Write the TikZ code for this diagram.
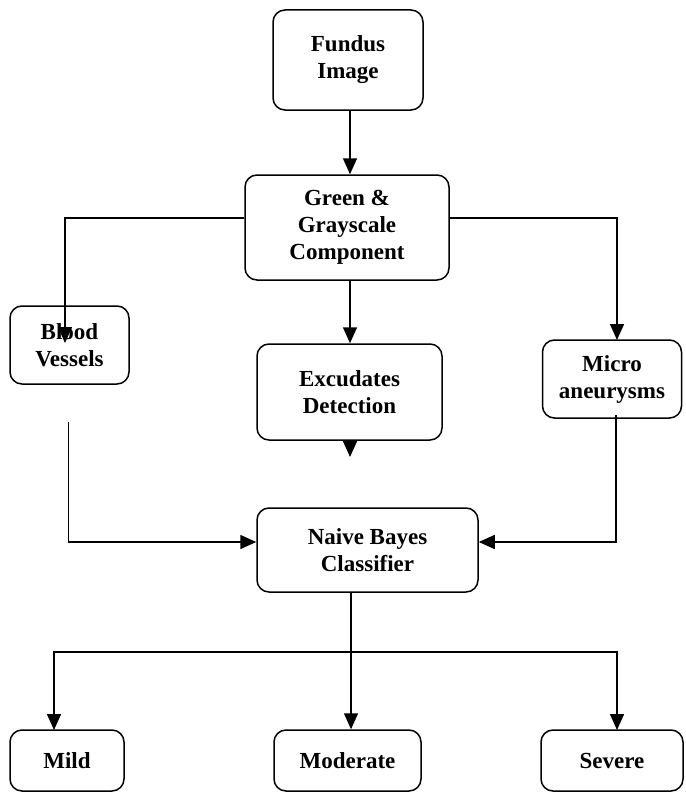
\documentclass[tikz,border=0pt]{standalone}
\usepackage{fontspec}
\setmainfont{Liberation Serif}
\usetikzlibrary{arrows.meta,calc}

\begin{document}
\begin{tikzpicture}[x=1pt,y=-1pt]
        \useasboundingbox (0,0) rectangle (685,792);

        \begin{scope}[every node/.style={draw,thick,line width=1.5pt,rounded corners=12pt,
                    align=center,inner sep=0pt,font=\bfseries\fontsize{23}{27}\selectfont}]
            \node[minimum width=150pt,minimum height=100pt] (fundus) at (348, 60) {Fundus\\Image};
            \node[minimum width=204pt,minimum height=105pt] (green) at (347, 227.5) {Green \&\\Grayscale\\Component};
            \node[minimum width=119pt,minimum height=78pt] (blood) at (69.5, 345) {Blood\\Vessels};
            \node[minimum width=185pt,minimum height=96pt] (excud) at (349.5, 392) {Excudates\\Detection};
            \node[minimum width=139pt,minimum height=78pt] (micro) at (612, 379) {Micro\\aneurysms};
            \node[minimum width=221pt,minimum height=84pt] (naive) at (367.5, 550) {Naive Bayes\\Classifier};
            \node[minimum width=114pt,minimum height=61pt] (mild) at (67, 760.5) {Mild};
            \node[minimum width=147pt,minimum height=61pt] (moderate) at (347.5, 760.5) {Moderate};
            \node[minimum width=142pt,minimum height=61pt] (severe) at (612, 760.5) {Severe};
        \end{scope}

        \coordinate (bloodTip) at (65, 343);
        \coordinate (microTip) at (617, 340);
        \coordinate (stub) at (350, 457);
        \coordinate (bloodOut) at (68.5, 422);
        \coordinate (microOut) at (616, 415);
        \coordinate (split) at (351, 652);
        \coordinate (mildTip) at (54, 730);
        \coordinate (severeTip) at (617, 730);

        \begin{scope}[>={Triangle[length=16pt,width=14pt]},line width=1.5pt]
            \draw [->] (fundus.south -| 350,0) -- (green.north -| 350,0);
            \draw [->] ([yshift=9.5pt]green.west) -| (bloodTip);
            \draw [->] ([yshift=9.5pt]green.east) -| (microTip);
            \draw [->] (green.south -| 350,0) -- (excud.north -| 350,0);
            \draw [->] (excud.south -| stub) -- (stub);

            \draw [->] (bloodOut) |- ([yshift=8pt]naive.west);
            \draw [->] (microOut) |- ([yshift=8pt]naive.east);

            \draw [->] (naive.south -| split) -- (moderate.north -| split);
            \draw [->] (split) -| (mildTip);
            \draw [->] (split) -| (severeTip);
        \end{scope}
    \end{tikzpicture}
\end{document}
